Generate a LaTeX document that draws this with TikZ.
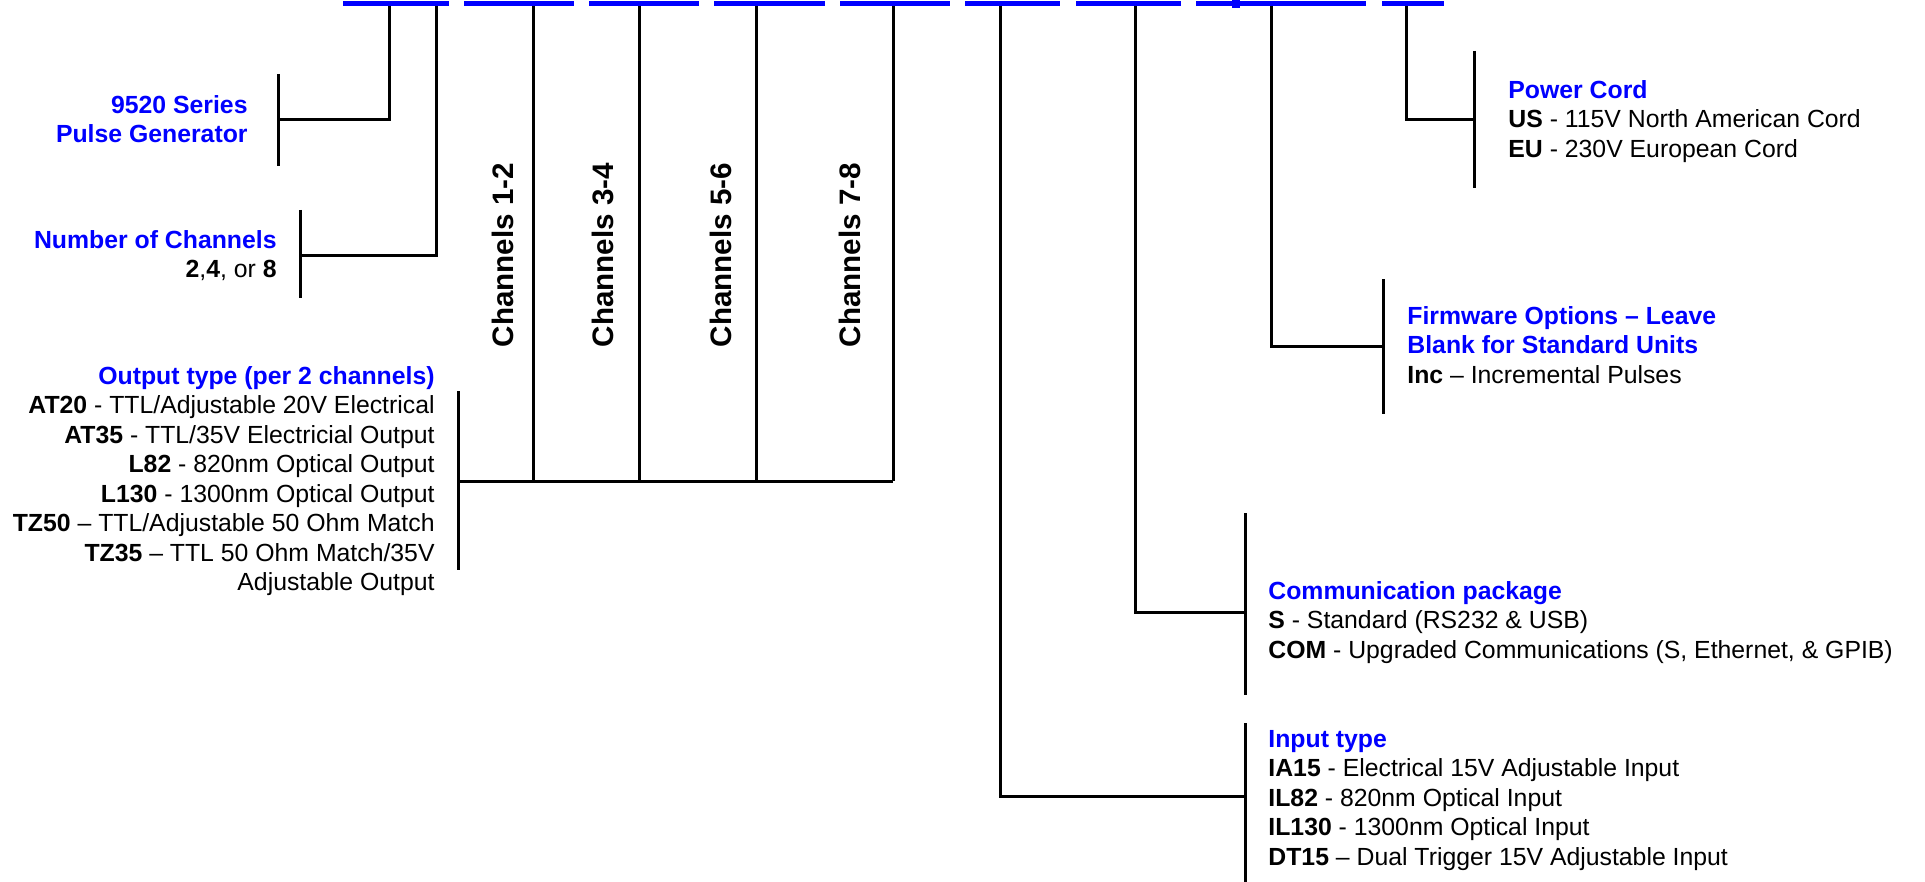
\documentclass[tikz,border=0pt]{standalone}
\usepackage{fontspec}
\setmainfont{Liberation Sans}
\usepackage{xcolor}
\usetikzlibrary{calc}

\tikzset{
  bar/.style={draw=blue, line width=2.5pt},
  lead/.style={draw=black, line width=1.5pt},
  txt/.style={inner sep=0pt, font=\fontsize{12.4}{14.75}\selectfont},
  chan/.style={rotate=90, inner sep=0pt, font=\fontsize{14.8}{17}\selectfont\bfseries},
}
\newcommand{\hd}[1]{\textcolor{blue}{\textbf{#1}}}

\begin{document}
\begin{tikzpicture}[x=0.5pt,y=-0.5pt]
\useasboundingbox (0,0) rectangle (1925,882);

% blanks of the part number
\foreach \a/\b in {343/449,464/574,589/699,714/825,840/950,965/1060,1076/1181,1196/1366,1382/1444}
  \draw[bar] (\a,3.5) -- (\b,3.5);
\fill[blue] (1232,0) rectangle (1240,8);

\coordinate (D1) at (389,6);
\coordinate (D2) at (436,6);
\coordinate (D3) at (533,6);
\coordinate (D4) at (639,6);
\coordinate (D5) at (756,6);
\coordinate (D6) at (893,6);
\coordinate (D7) at (1000,6);
\coordinate (D8) at (1135,6);
\coordinate (D9) at (1271,6);
\coordinate (D10) at (1406,6);

% series
\coordinate (Gt) at (278,74);
\coordinate (Gb) at (278,166);
\coordinate (Gj) at (278,120);
\node[txt, align=right, anchor=north east] (gen) at (248,95) {\hd{9520 Series}\\\hd{Pulse Generator}};
\draw[lead] (Gt) -- (Gb);
\draw[lead] (D1) |- (Gj);

% channels
\coordinate (Nt) at (300,210);
\coordinate (Nb) at (300,298);
\coordinate (Nj) at (300,255);
\node[txt, align=right, anchor=north east] (nch) at (277,230) {\hd{Number of Channels}\\\textbf{2},\textbf{4}, or \textbf{8}};
\draw[lead] (Nt) -- (Nb);
\draw[lead] (D2) |- (Nj);

% output type
\coordinate (Ot) at (458,391);
\coordinate (Ob) at (458,570);
\coordinate (Oj) at (458,481);
\node[txt, align=right, anchor=north east] (out) at (435,366) {\hd{Output type (per 2 channels)}\\
  \textbf{AT20} - TTL/Adjustable 20V Electrical\\
  \textbf{AT35} - TTL/35V Electricial Output\\
  \textbf{L82} - 820nm Optical Output\\
  \textbf{L130} - 1300nm Optical Output\\
  \textbf{TZ50} -- TTL/Adjustable 50 Ohm Match\\
  \textbf{TZ35} -- TTL 50 Ohm Match/35V\\
  Adjustable Output};
\draw[lead] (Ot) -- (Ob);
\draw[lead] (Oj) -- (D6 |- Oj);
\foreach \d in {D3,D4,D5,D6}
  \draw[lead] (\d) -- (\d |- Oj);
\node[chan] (c12) at (503,255) {Channels 1-2};
\node[chan] (c34) at (603,255) {Channels 3-4};
\node[chan] (c56) at (721,255) {Channels 5-6};
\node[chan] (c78) at (850,255) {Channels 7-8};

% power cord
\coordinate (Pt) at (1474,51);
\coordinate (Pb) at (1474,188);
\coordinate (Pj) at (1474,120);
\node[txt, align=left, anchor=north west] (pwr) at (1508,80) {\hd{Power Cord}\\
  \textbf{US} - 115V North American Cord\\
  \textbf{EU} - 230V European Cord};
\draw[lead] (Pt) -- (Pb);
\draw[lead] (D10) |- (Pj);

% firmware
\coordinate (Ft) at (1383,279);
\coordinate (Fb) at (1383,414);
\coordinate (Fj) at (1383,346);
\node[txt, align=left, anchor=north west] (fw) at (1407,306) {\hd{Firmware Options -- Leave}\\
  \hd{Blank for Standard Units}\\
  \textbf{Inc} -- Incremental Pulses};
\draw[lead] (Ft) -- (Fb);
\draw[lead] (D9) |- (Fj);

% communication
\coordinate (Ct) at (1245,513);
\coordinate (Cb) at (1245,695);
\coordinate (Cj) at (1245,612);
\node[txt, align=left, anchor=north west] (com) at (1268,581) {\hd{Communication package}\\
  \textbf{S} - Standard (RS232 \& USB)\\
  \textbf{COM} - Upgraded Communications (S, Ethernet, \& GPIB)};
\draw[lead] (Ct) -- (Cb);
\draw[lead] (D8) |- (Cj);

% input type
\coordinate (It) at (1245,723);
\coordinate (Ib) at (1245,882);
\coordinate (Ij) at (1245,796);
\node[txt, align=left, anchor=north west] (inp) at (1268,730) {\hd{Input type}\\
  \textbf{IA15} - Electrical 15V Adjustable Input\\
  \textbf{IL82} - 820nm Optical Input\\
  \textbf{IL130} - 1300nm Optical Input\\
  \textbf{DT15} -- Dual Trigger 15V Adjustable Input};
\draw[lead] (It) -- (Ib);
\draw[lead] (D7) |- (Ij);
\end{tikzpicture}
\end{document}
